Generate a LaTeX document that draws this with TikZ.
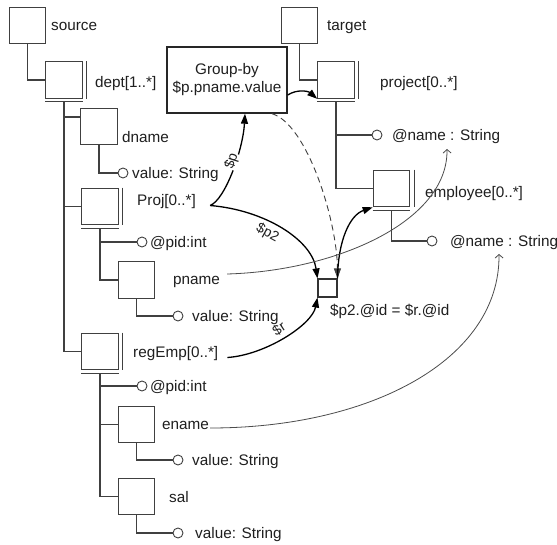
\documentclass[tikz,border=0pt]{standalone}
\usepackage{fontspec}
\setmainfont{Liberation Sans}
\usetikzlibrary{arrows.meta,calc}

% parallel double edge marking a repeatable element
\newcommand\manymark[1]{%
  \draw[tree] ([xshift=4pt]#1.north east) -- ([xshift=4pt]#1.south east);
  \draw[tree] ([yshift=-3pt]#1.south west) -- ([yshift=-3pt]#1.south east);}

\begin{document}
\begin{tikzpicture}[x=1pt,y=-1pt,
  every node/.style={font=\fontsize{15.3}{18}\selectfont, text=black!88},
  elem/.style={draw=black!75, line width=1.1pt, minimum size=36.5pt, inner sep=0pt, fill=white},
  joinbox/.style={draw=black!80, line width=1.1pt, minimum width=19pt, minimum height=18pt, inner sep=0pt, fill=white},
  attr/.style={draw=black!75, line width=0.9pt, circle, minimum size=10pt, inner sep=0pt, fill=white},
  lbl/.style={anchor=west, inner sep=0pt, text height=11pt, text depth=0pt},
  tree/.style={draw=black!75, line width=1.1pt},
  flow/.style={draw=black, line width=1.3pt, -{Triangle[length=10pt,width=7pt]}},
  varlbl/.style={font=\fontsize{14}{16}\selectfont, inner sep=0.5pt},
  link/.style={draw=black!70, line width=0.8pt, -{Straight Barb[length=3.5pt,width=8pt]}}
]
\useasboundingbox (0,0) rectangle (557,545);
\fill[white] (0,0) rectangle (557,545);

% ---------- source schema ----------
\node[elem] (source) at (27.5,25.5) {};
\node[elem] (dept)   at (64,80) {};
\node[elem] (dname)  at (99,126.5) {};
\node[elem] (proj)   at (100,206.5) {};
\node[elem] (pname)  at (136.5,280) {};
\node[elem] (regemp) at (100,351.5) {};
\node[elem] (ename)  at (136.5,424.5) {};
\node[elem] (sal)    at (136.5,496.5) {};
\manymark{dept}
\manymark{proj}
\manymark{regemp}

\node[attr] (v1)   at (123,173) {};
\node[attr] (pid1) at (142,242) {};
\node[attr] (v2)   at (178,316) {};
\node[attr] (pid2) at (142,386) {};
\node[attr] (v3)   at (178,460) {};
\node[attr] (v4)   at (178,533) {};

\node[lbl] (l-source) at (51,25)   {source};
\node[lbl] (l-dept)   at (95,82)   {dept[1..*]};
\node[lbl] (l-dname)  at (122,137) {dname};
\node[lbl] (l-v1)     at (132,173) {value: String};
\node[lbl] (l-proj)   at (137,200) {Proj[0..*]};
\node[lbl] (l-pid1)   at (150,242) {@pid:int};
\node[lbl] (l-pname)  at (173,279) {pname};
\node[lbl] (l-v2)     at (192,316) {value: String};
\node[lbl] (l-regemp) at (133,352) {regEmp[0..*]};
\node[lbl] (l-pid2)   at (150,386) {@pid:int};
\node[lbl] (l-ename)  at (162,424) {ename};
\node[lbl] (l-v3)     at (192,460) {value: String};
\node[lbl] (l-sal)    at (169,497) {sal};
\node[lbl] (l-v4)     at (195,533) {value: String};

\draw[tree] (source.south) |- (dept.west);
\draw[tree] ([yshift=-3pt]dept.south) |- ([yshift=9.5pt]dname.west);
\draw[tree] ([yshift=-3pt]dept.south) |- (proj.west);
\draw[tree] ([yshift=-3pt]dept.south) |- (regemp.west);
\draw[tree] (dname.south) |- (v1.west);
\draw[tree] ([yshift=-3pt]proj.south) |- (pid1.west);
\draw[tree] ([yshift=-3pt]proj.south) |- (pname.west);
\draw[tree] (pname.south) |- (v2.west);
\draw[tree] ([yshift=-3pt]regemp.south) |- (pid2.west);
\draw[tree] ([yshift=-3pt]regemp.south) |- (ename.west);
\draw[tree] ([yshift=-3pt]regemp.south) |- (sal.west);
\draw[tree] (ename.south) |- (v3.west);
\draw[tree] (sal.south) |- (v4.west);

% ---------- target schema ----------
\node[elem] (target)   at (299.5,25.5) {};
\node[elem] (project)  at (336,80) {};
\node[elem] (employee) at (391.5,188.5) {};
\manymark{project}
\manymark{employee}

\node[attr] (pnm) at (377,135) {};
\node[attr] (enm) at (432,241) {};

\node[lbl] (l-target)   at (327,25)  {target};
\node[lbl] (l-project)  at (380,82)  {project[0..*]};
\node[lbl] (l-pnm)      at (392,135) {@name : String};
\node[lbl] (l-employee) at (425,192) {employee[0..*]};
\node[lbl] (l-enm)      at (450,241) {@name : String};

\draw[tree] (target.south) |- (project.west);
\draw[tree] ([yshift=-3pt]project.south) |- (pnm.west);
\draw[tree] ([yshift=-3pt]project.south) |- (employee.west);
\draw[tree] ([yshift=-3pt]employee.south) |- (enm.west);

% ---------- mapping operators ----------
\node[draw=black!85, line width=1.4pt, minimum width=120pt, minimum height=66pt,
      align=center, inner sep=0pt, fill=white] (gb) at (227,80)
      {Group-by\\\$p.pname.value};
\node[joinbox] (join) at (327.5,288) {};
\node[lbl] (l-join) at (330,310) {\$p2.@id = \$r.@id};

\draw[flow] ([yshift=-15pt]gb.east) .. controls (297,89) and (308,91) .. (project.south west);
\draw[flow, line width=0.9pt, draw=black!75, dash pattern=on 6pt off 4pt]
  ([xshift=45pt]gb.south) .. controls (307,124) and (337,220) .. (join.north east);
\draw[flow] ([xshift=14pt]l-proj.base east) .. controls (225,200) and (243,150) .. ([xshift=18pt]gb.south)
  node[varlbl, sloped, pos=0.58, above=-4pt, fill=white] {\$p};
\draw[flow] ([xshift=14pt]l-proj.base east) .. controls (265,210) and (312,240) .. (join.north west)
  node[varlbl, sloped, pos=0.42, below=3pt] {\$p2};
\draw[flow] ([xshift=9pt]l-regemp.base east) .. controls (265,355) and (312,325) .. (join.south west)
  node[varlbl, sloped, pos=0.5, above=3pt] {\$r};
\draw[flow] (join.north east) .. controls (338,240) and (350,215) .. (employee.south west);

% ---------- value correspondences ----------
\coordinate (t-pnm) at (447,149);
\coordinate (t-enm) at (499,254);
\draw[link] ([xshift=7pt,yshift=5pt]l-pname.east) .. controls (335,271) and (448,222) .. (t-pnm);
\draw[link] ([xshift=1pt,yshift=-4pt]l-ename.east) .. controls (370,428) and (500,360) .. (t-enm);
\end{tikzpicture}
\end{document}
